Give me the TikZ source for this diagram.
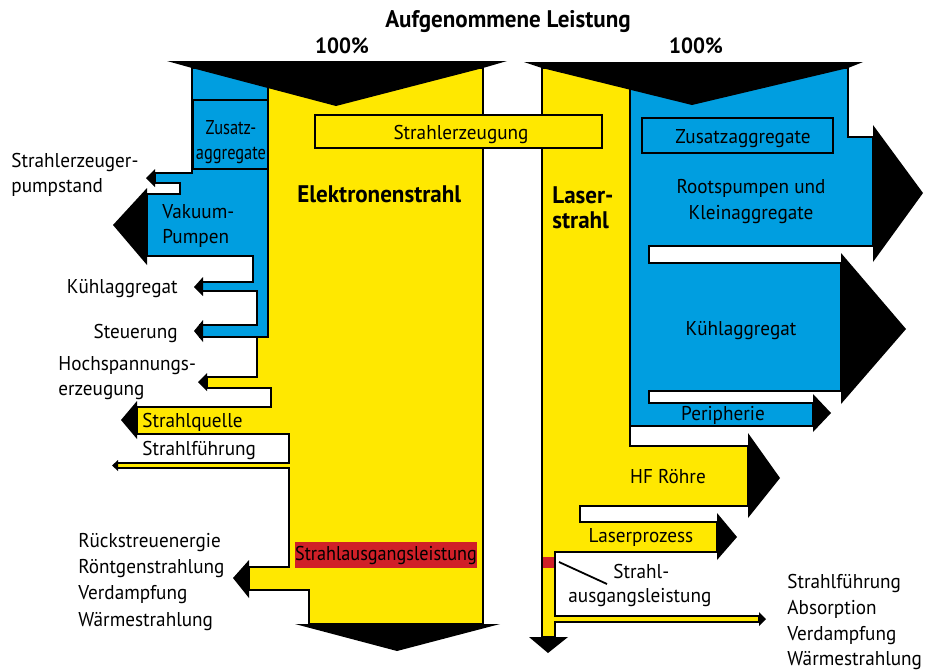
\documentclass[tikz,border=0pt]{standalone}
\usepackage{fontspec}
\setmainfont{PT Sans}[FakeStretch=0.96]
\newfontfamily\narrowfont{PT Sans}[FakeStretch=0.82]
\newfontfamily\fitfont{PT Sans}[FakeStretch=0.91]
\definecolor{flowblue}{RGB}{0,158,224}
\definecolor{flowyellow}{RGB}{255,232,0}
\definecolor{flowred}{RGB}{208,32,40}

\begin{document}
\begin{tikzpicture}[x=0.5pt, y=-0.5pt,
    flow/.style={draw=black, line width=0.7pt, line join=miter},
    blueflow/.style={flow, fill=flowblue},
    yellowflow/.style={flow, fill=flowyellow},
    headfill/.style={fill=black},
    lbl/.style={inner sep=0pt, font=\fontsize{10}{12}\selectfont},
    boldlbl/.style={inner sep=0pt, font=\fontsize{12}{14}\selectfont\bfseries}]

    \useasboundingbox (0,0) rectangle (925,670);

    % Electron beam: blue part
    \draw[blueflow] (192,68) -- (268,68) -- (268,337) -- (200,337) -- (200,325) -- (257,325) -- (257,291) -- (200,291) -- (200,282) -- (253,282) -- (253,256) -- (147,256) -- (147,194) -- (180,194) -- (180,183) -- (155,183) -- (155,173) -- (192,173) -- cycle;
    % Electron beam: yellow part
    \draw[yellowflow] (268,68) -- (483,68) -- (483,624) -- (309,624) -- (309,590) -- (249,590) -- (249,567) -- (289,567) -- (289,468) -- (117,468) -- (117,463) -- (289,463) -- (289,434) -- (137,434) -- (137,407) -- (271,407) -- (271,388) -- (207,388) -- (207,377) -- (257,377) -- (257,337) -- (268,337) -- cycle;

    % Laser: yellow part
    \draw[yellowflow] (542,68) -- (630,68) -- (630,446) -- (748,446) -- (748,506) -- (580,506) -- (580,522) -- (717,522) -- (717,552) -- (555,552) -- (555,616) -- (759,616) -- (759,622) -- (555,622) -- (555,637) -- (542,637) -- cycle;
    % Laser: blue part
    \draw[blueflow] (630,68) -- (848,68) -- (848,137) -- (873,137) -- (873,246) -- (649,246) -- (649,263) -- (841,263) -- (841,391) -- (649,391) -- (649,403) -- (813,403) -- (813,426) -- (630,426) -- cycle;

    % Arrow heads, electron beam
    \fill[headfill] (167,61) -- (507,61) -- (483,68) -- (336,106) -- (192,68) -- cycle;
    \fill[headfill] (155,169) -- (146,178) -- (155,187) -- cycle;
    \fill[headfill] (147,188) -- (113,225) -- (147,265) -- cycle;
    \fill[headfill] (203,277) -- (194,287) -- (203,296) -- cycle;
    \fill[headfill] (203,320) -- (194,331) -- (203,342) -- cycle;
    \fill[headfill] (207,373) -- (198,382) -- (207,391) -- cycle;
    \fill[headfill] (137,401) -- (121,420) -- (137,439) -- cycle;
    \fill[headfill] (118,460) -- (112,465.5) -- (118,471) -- cycle;
    \fill[headfill] (249,560) -- (233,578) -- (249,598) -- cycle;
    \fill[headfill] (295,624) -- (500,624) -- (397,651) -- cycle;

    % Arrow heads, laser
    \fill[headfill] (524,62) -- (863,62) -- (848,68) -- (692,105) -- (542,68) -- cycle;
    \fill[headfill] (873,125) -- (923,193) -- (873,262) -- cycle;
    \fill[headfill] (841,253) -- (906,329) -- (841,404) -- cycle;
    \fill[headfill] (813,394) -- (831,413) -- (813,432) -- cycle;
    \fill[headfill] (748,433) -- (780,478) -- (748,518) -- cycle;
    \fill[headfill] (717,513) -- (737,537) -- (717,560) -- cycle;
    \fill[headfill] (759,612) -- (766,619) -- (759,626) -- cycle;
    \fill[headfill] (529,637) -- (568,637) -- (548,653) -- cycle;

    % Boxes
    \draw[blueflow] (193,100) rectangle (268,169);
    \draw[blueflow] (642,118) rectangle (833,153);
    \draw[yellowflow] (315,115) rectangle (602,148);
    \fill[flowred] (295,542) rectangle (477,568);
    \fill[flowred] (543.2,557) rectangle (554.3,568);
    \draw[line width=0.9pt] (559,562) -- (607,584);

    % Headings
    \node[boldlbl, anchor=base] (title) at (508,27) {Aufgenommene Leistung};
    \node[boldlbl, anchor=base, font=\fontsize{11}{13}\selectfont\bfseries] (pctebeam) at (342,53) {100\%};
    \node[boldlbl, anchor=base, font=\fontsize{11}{13}\selectfont\bfseries] (pctlaser) at (696,53) {100\%};
    \node[boldlbl, anchor=base west] (ebeam) at (297,202) {Elektronenstrahl};
    \node[boldlbl, anchor=base west] (laser1) at (552,203) {Laser-};
    \node[boldlbl, anchor=base west] (laser2) at (552,228) {strahl};
    \node[lbl, anchor=base] (generation) at (461,139) {Strahlerzeugung};

    % Labels, electron beam
    \node[lbl, anchor=base west] (pumpstand1) at (11,167) {Strahlerzeuger-};
    \node[lbl, anchor=base west] (pumpstand2) at (11,192) {pumpstand};
    \node[lbl, anchor=base, font=\fontsize{10}{12}\narrowfont] (addon1) at (231,134) {Zusatz-};
    \node[lbl, anchor=base, font=\fontsize{10}{12}\narrowfont] (addon2) at (231,159) {aggregate};
    \node[lbl, anchor=base west] (vacuum1) at (162,218) {Vakuum-};
    \node[lbl, anchor=base west] (vacuum2) at (162,243) {Pumpen};
    \node[lbl, anchor=base east] (coolingl) at (178,293) {Kühlaggregat};
    \node[lbl, anchor=base east] (control) at (178,338) {Steuerung};
    \node[lbl, anchor=base west] (hv1) at (58,370) {Hochspannungs-};
    \node[lbl, anchor=base west] (hv2) at (58,395) {erzeugung};
    \node[lbl, anchor=base west] (source) at (142,427) {Strahlquelle};
    \node[lbl, anchor=base west] (guidel) at (142,455) {Strahlführung};
    \node[lbl, anchor=base, font=\fontsize{10}{12}\fitfont] (outputl) at (386,560) {Strahlausgangsleistung};
    \node[lbl, anchor=base west] (lossl1) at (78,547) {Rückstreuenergie};
    \node[lbl, anchor=base west] (lossl2) at (78,573) {Röntgenstrahlung};
    \node[lbl, anchor=base west] (lossl3) at (78,599) {Verdampfung};
    \node[lbl, anchor=base west] (lossl4) at (78,626) {Wärmestrahlung};

    % Labels, laser
    \node[lbl, anchor=base] (addonr) at (743,143) {Zusatzaggregate};
    \node[lbl, anchor=base] (roots1) at (751,193) {Rootspumpen und};
    \node[lbl, anchor=base] (roots2) at (751,219) {Kleinaggregate};
    \node[lbl, anchor=base] (coolingr) at (741,335) {Kühlaggregat};
    \node[lbl, anchor=base] (periphery) at (723,420) {Peripherie};
    \node[lbl, anchor=base] (hftube) at (668,483) {HF Röhre};
    \node[lbl, anchor=base] (process) at (641,542) {Laserprozess};
    \node[lbl, anchor=base west] (outputr1) at (613,578) {Strahl-};
    \node[lbl, anchor=base west] (outputr2) at (568,602) {ausgangsleistung};
    \node[lbl, anchor=base west] (lossr1) at (787,588) {Strahlführung};
    \node[lbl, anchor=base west] (lossr2) at (787,614) {Absorption};
    \node[lbl, anchor=base west] (lossr3) at (787,640) {Verdampfung};
    \node[lbl, anchor=base west] (lossr4) at (787,665) {Wärmestrahlung};
\end{tikzpicture}
\end{document}
